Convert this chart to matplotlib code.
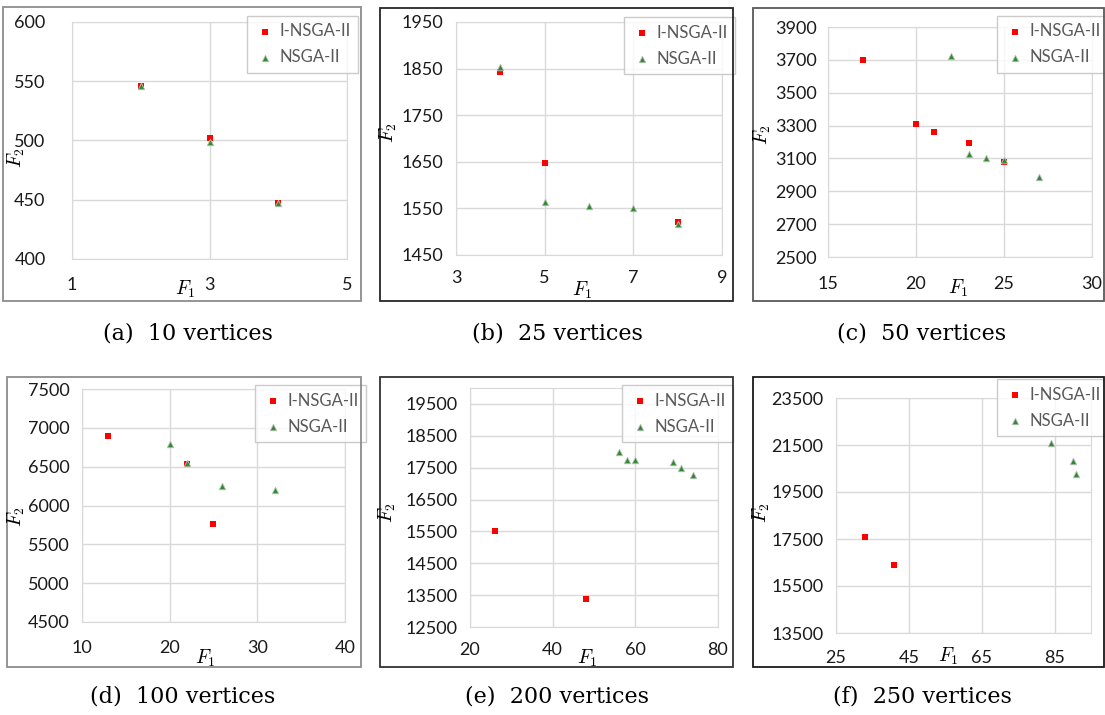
import matplotlib
matplotlib.use("Agg")
import matplotlib.pyplot as plt
from matplotlib.patches import Rectangle

plt.rcParams['mathtext.fontset'] = 'cm'

W, H = 1105, 715

# datos: (F1, F2) por algoritmo
a_i_x = [2, 3, 4]
a_i_y = [546, 502, 447]
a_n_x = [2, 3, 4]
a_n_y = [546, 499, 447]

b_i_x = [4, 5, 8]
b_i_y = [1843, 1648, 1520]
b_n_x = [4, 5, 6, 7, 8]
b_n_y = [1853, 1563, 1555, 1550, 1517]

c_i_x = [17, 20, 21, 23, 25]
c_i_y = [3697, 3310, 3262, 3192, 3078]
c_n_x = [22, 23, 24, 25, 27]
c_n_y = [3725, 3125, 3100, 3090, 2985]

d_i_x = [13, 22, 25]
d_i_y = [6895, 6540, 5760]
d_n_x = [20, 22, 26, 32]
d_n_y = [6790, 6545, 6245, 6205]

e_i_x = [26, 48]
e_i_y = [15500, 13380]
e_n_x = [56, 58, 60, 69, 71, 74]
e_n_y = [17980, 17750, 17750, 17680, 17500, 17280]

f_i_x = [33, 41]
f_i_y = [17600, 16400]
f_n_x = [84, 90, 91]
f_n_y = [21600, 20800, 20250]

captions = ["(a)  10 vertices", "(b)  25 vertices", "(c)  50 vertices",
            "(d)  100 vertices", "(e)  200 vertices", "(f)  250 vertices"]

# limites y ticks de cada panel
xlims = [(1, 5), (3, 9), (15, 30), (10, 40), (20, 80), (25, 95)]
xticks = [[1, 3, 5], [3, 5, 7, 9], [15, 20, 25, 30], [10, 20, 30, 40],
          [20, 40, 60, 80], [25, 45, 65, 85]]
ylims = [(400, 600), (1450, 1950), (2500, 3900), (4500, 7500),
         (12500, 20000), (13500, 23500)]
yticks = [list(range(400, 601, 50)), list(range(1450, 1951, 100)),
          list(range(2500, 3901, 200)), list(range(4500, 7501, 500)),
          list(range(12500, 19501, 1000)), list(range(13500, 23501, 2000))]

series = [(a_i_x, a_i_y, a_n_x, a_n_y), (b_i_x, b_i_y, b_n_x, b_n_y),
          (c_i_x, c_i_y, c_n_x, c_n_y), (d_i_x, d_i_y, d_n_x, d_n_y),
          (e_i_x, e_i_y, e_n_x, e_n_y), (f_i_x, f_i_y, f_n_x, f_n_y)]

# posiciones en pixeles (izq, der, arriba, abajo)
plot_box = [(72, 347, 22, 259), (456, 722, 22, 255), (828, 1092, 27, 257),
            (82, 345, 389, 622), (470, 718, 388, 627), (836, 1091, 398, 633)]
frame_box = [(3, 361, 7, 301), (380, 733, 8, 301), (753, 1104, 8, 301),
             (7, 361, 377, 667), (380, 733, 377, 667), (753, 1104, 377, 667)]
frame_col = ['#8c8c8c', '#262626', '#595959', '#8c8c8c', '#333333', '#1a1a1a']
legend_box = [(247, 16), (624, 17), (997, 16), (255, 385), (622, 385), (997, 379)]
f1_pos = [(185, 289), (582, 290), (958, 288), (205, 658), (587, 658), (948, 656)]
f2_pos = [(16, 158), (388, 133), (762, 135), (16, 517), (387, 513), (761, 513)]
caption_pos = [(188, 333), (557, 333), (922, 333), (183, 696), (557, 696), (922, 696)]
ypad = [19, 9, 8, 9, 9, 9]
xpad = [13, 11, 14, 13, 11, 12]

fig = plt.figure(figsize=(W / 100, H / 100), dpi=100)

for k in range(6):
    fl, fr, ft, fb = frame_box[k]
    fig.patches.append(Rectangle((fl / W, 1 - fb / H), (fr - fl) / W, (fb - ft) / H,
                                 transform=fig.transFigure, fill=False,
                                 edgecolor=frame_col[k], linewidth=1.3, zorder=0))

    l, r, t, b = plot_box[k]
    ax = fig.add_axes([l / W, 1 - b / H, (r - l) / W, (b - t) / H])
    ix, iy, nx, ny = series[k]
    ax.scatter(ix, iy, marker='s', s=22, color='#ff0000', linewidths=0,
               label='I-NSGA-II', zorder=3, clip_on=False)
    ax.scatter(nx, ny, marker='^', s=22, color='#2e8b2e', edgecolors='#bfbfbf',
               linewidths=0.6, label='NSGA-II', zorder=4, clip_on=False)
    ax.set_xlim(*xlims[k])
    ax.set_ylim(*ylims[k])
    ax.set_xticks(xticks[k])
    ax.set_yticks(yticks[k])
    ax.grid(True, color='#d9d9d9', linewidth=1)
    ax.set_axisbelow(True)
    for s in ax.spines.values():
        s.set_color('#d9d9d9')
    ax.tick_params(length=0, labelsize=13, labelcolor='#1a1a1a')
    ax.tick_params(axis='y', pad=ypad[k])
    ax.tick_params(axis='x', pad=xpad[k])
    for lab in ax.get_xticklabels() + ax.get_yticklabels():
        lab.set_fontfamily('Lato')

    lx, ly = legend_box[k]
    leg = ax.legend(loc='upper left', bbox_to_anchor=(lx / W, 1 - ly / H),
                    bbox_transform=fig.transFigure, fancybox=False,
                    prop={'family': 'Lato', 'size': 12}, labelcolor='#595959',
                    handletextpad=0.2, handlelength=1.3, borderpad=0.45,
                    labelspacing=0.6, borderaxespad=0, markerscale=1.0)
    leg.get_frame().set_edgecolor('#bfbfbf')
    leg.get_frame().set_linewidth(1)

    fig.text(f1_pos[k][0] / W, 1 - f1_pos[k][1] / H, r'$F_1$', fontsize=14,
             ha='center', va='center')
    fig.text(f2_pos[k][0] / W, 1 - f2_pos[k][1] / H, r'$F_2$', fontsize=14,
             ha='center', va='center', rotation=90)
    fig.text(caption_pos[k][0] / W, 1 - caption_pos[k][1] / H, captions[k],
             fontsize=16, family='DejaVu Serif', ha='center', va='center')

plt.savefig('out.png', dpi=100)
